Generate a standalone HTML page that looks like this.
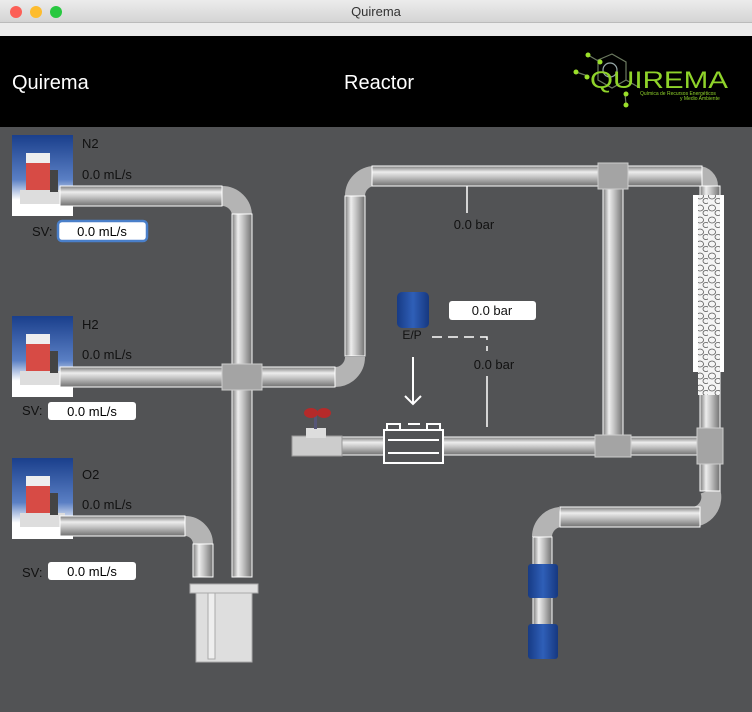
<!DOCTYPE html>
<html><head><meta charset="utf-8"><style>
html,body{margin:0;padding:0;width:752px;height:712px;overflow:hidden;background:#525355;font-family:"Liberation Sans",sans-serif}
svg{display:block}
</style></head><body>
<svg width="752" height="712" xmlns="http://www.w3.org/2000/svg" font-family="Liberation Sans, sans-serif">
<defs>
<linearGradient id="gv" x1="0" y1="0" x2="0" y2="1"><stop offset="0" stop-color="#7a7a7a"/><stop offset=".3" stop-color="#ededed"/><stop offset=".55" stop-color="#c4c4c4"/><stop offset="1" stop-color="#707070"/></linearGradient>
<linearGradient id="gh" x1="0" y1="0" x2="1" y2="0"><stop offset="0" stop-color="#7a7a7a"/><stop offset=".3" stop-color="#ededed"/><stop offset=".55" stop-color="#c4c4c4"/><stop offset="1" stop-color="#707070"/></linearGradient>
<linearGradient id="tb" x1="0" y1="0" x2="0" y2="1"><stop offset="0" stop-color="#ececec"/><stop offset="1" stop-color="#d4d4d4"/></linearGradient>
<linearGradient id="img" x1="0" y1="0" x2="0" y2="1"><stop offset="0" stop-color="#1a3f8c"/><stop offset=".55" stop-color="#5a7fc4"/><stop offset=".8" stop-color="#fff"/><stop offset="1" stop-color="#fff"/></linearGradient>
<linearGradient id="blu" x1="0" y1="0" x2="1" y2="0"><stop offset="0" stop-color="#173b85"/><stop offset=".5" stop-color="#2f5fb8"/><stop offset="1" stop-color="#163880"/></linearGradient>
<pattern id="peb" width="12" height="12" patternUnits="userSpaceOnUse">
<rect width="12" height="12" fill="#f4f4f4"/>
<ellipse cx="4" cy="4" rx="3.5" ry="3" fill="none" stroke="#555" stroke-width="0.8"/>
<ellipse cx="10" cy="9" rx="3" ry="2.6" fill="none" stroke="#555" stroke-width="0.8"/>
</pattern>
<g id="mfc">
<rect width="61" height="81" fill="url(#img)"/>
<rect x="14" y="18" width="24" height="40" fill="#d74b45"/>
<rect x="14" y="18" width="24" height="10" fill="#eee"/>
<rect x="8" y="55" width="45" height="14" fill="#ddd"/>
<rect x="38" y="35" width="8" height="22" fill="#444"/>
</g>
</defs>
<rect x="0" y="0" width="752" height="22" fill="url(#tb)"/>
<rect x="0" y="22" width="752" height="14" fill="#ececec"/>
<line x1="0" y1="22.5" x2="752" y2="22.5" stroke="#bbb"/>
<circle cx="16" cy="12" r="6" fill="#fc5f57"/><circle cx="36" cy="12" r="6" fill="#fdbc2e"/><circle cx="56" cy="12" r="6" fill="#28c840"/>
<text x="376" y="16" font-size="13" fill="#333" text-anchor="middle">Quirema</text>
<rect x="0" y="36" width="752" height="91" fill="#000"/>
<text x="12" y="89" font-size="20" fill="#fff">Quirema</text>
<text x="344" y="89" font-size="20" fill="#fff">Reactor</text>
<g stroke="#6c7a60" stroke-width="1.2" fill="none"><circle cx="610" cy="70" r="7" stroke="#9aa"/><path d="M598 60 L612 54 L626 62 L626 80 L612 88 L598 80 Z M626 80 L640 88 M588 55 L600 62 M576 72 L588 76 M625 94 L626 104"/></g>
<g fill="#9be02a"><circle cx="588" cy="55" r="2.5"/><circle cx="600" cy="62" r="2.5"/><circle cx="576" cy="72" r="2.5"/><circle cx="587" cy="77" r="2.5"/><circle cx="626" cy="94" r="2.5"/><circle cx="626" cy="105" r="2.5"/></g>
<text x="590" y="88" font-size="24" fill="#8fd32a" textLength="138" lengthAdjust="spacingAndGlyphs">QUIREMA</text>
<text x="640" y="95" font-size="5" fill="#8fd32a">Química de Recursos Energéticos</text>
<text x="680" y="100" font-size="5" fill="#8fd32a">y Medio Ambiente</text>
<use href="#mfc" x="12" y="135"/><use href="#mfc" x="12" y="316"/><use href="#mfc" x="12" y="458"/>
<g font-size="13" fill="#111">
<text x="82" y="148">N2</text><text x="82" y="179">0.0 mL/s</text><text x="32" y="236">SV:</text>
<text x="82" y="329">H2</text><text x="82" y="359">0.0 mL/s</text><text x="22" y="415">SV:</text>
<text x="82" y="479">O2</text><text x="82" y="509">0.0 mL/s</text><text x="22" y="577">SV:</text>
</g>
<rect x="58" y="221" width="89" height="20" rx="4" fill="#fff" stroke="#4a7fc9" stroke-width="2.5"/>
<rect x="48" y="402" width="88" height="18" rx="3" fill="#fff"/>
<rect x="48" y="562" width="88" height="18" rx="3" fill="#fff"/>
<g font-size="13" fill="#000" text-anchor="middle"><text x="102" y="236">0.0 mL/s</text><text x="92" y="416">0.0 mL/s</text><text x="92" y="576">0.0 mL/s</text></g>
<g fill="none" stroke="#b4b4b4" stroke-width="20">
<path d="M222 196 A20 20 0 0 1 242 216"/>
<path d="M335 377 A20 20 0 0 0 355 357"/>
<path d="M355 196 A20 20 0 0 1 375 176"/>
<path d="M698 176 A10 10 0 0 1 708 186"/>
<path d="M710 490 A20 20 0 0 1 690 517"/>
<path d="M560 517 A20 20 0 0 0 542 537"/>
<path d="M185 526 A18 18 0 0 1 203 544"/>
</g>
<g fill="url(#gv)" stroke="#fff" stroke-width="1">
<rect x="60" y="186" width="162" height="20"/>
<rect x="60" y="367" width="275" height="20"/>
<rect x="60" y="516" width="125" height="20"/>
<rect x="372" y="166" width="330" height="20"/>
<rect x="340" y="437" width="370" height="18"/>
<rect x="560" y="507" width="140" height="20"/>
</g>
<g fill="url(#gh)" stroke="#fff" stroke-width="1">
<rect x="232" y="214" width="20" height="363"/>
<rect x="345" y="196" width="20" height="160"/>
<rect x="603" y="186" width="20" height="251"/>
<rect x="700" y="186" width="20" height="305"/>
<rect x="533" y="537" width="19" height="118"/>
<rect x="193" y="544" width="20" height="33"/>
</g>
<g fill="#a4a4a4" stroke="#ccc">
<rect x="222" y="364" width="40" height="26"/><rect x="598" y="163" width="30" height="26"/><rect x="595" y="435" width="36" height="22"/><rect x="697" y="428" width="26" height="36"/>
</g>
<rect x="693" y="195" width="31" height="177" fill="#fff"/>
<rect x="698" y="195" width="22" height="200" fill="url(#peb)"/>
<rect x="190" y="584" width="68" height="9" fill="#e0e0e0" stroke="#aaa"/>
<rect x="196" y="593" width="56" height="69" fill="#dedede" stroke="#aaa"/>
<rect x="208" y="593" width="7" height="66" fill="#eee" stroke="#aaa"/>
<rect x="528" y="564" width="30" height="34" rx="3" fill="url(#blu)"/>
<rect x="528" y="624" width="30" height="35" rx="3" fill="url(#blu)"/>
<rect x="397" y="292" width="32" height="36" rx="5" fill="url(#blu)"/>
<text x="412" y="339" font-size="12" fill="#111" text-anchor="middle">E/P</text>
<rect x="292" y="436" width="50" height="20" fill="#ccc" stroke="#999"/>
<rect x="306" y="428" width="20" height="10" fill="#ddd"/>
<rect x="314" y="414" width="3" height="15" fill="#557"/>
<ellipse cx="311" cy="413" rx="7" ry="5" fill="#b52a2a"/><ellipse cx="324" cy="413" rx="7" ry="5" fill="#b52a2a"/>
<g stroke="#fff" stroke-width="2" fill="none">
<rect x="384" y="430" width="59" height="33" fill="#525355"/>
<path d="M387 430 V424 H400 V430 M427 430 V424 H440 V430 M408 424 H420"/>
<line x1="388" y1="440" x2="439" y2="440"/><line x1="388" y1="453" x2="439" y2="453"/>
<line x1="413" y1="357" x2="413" y2="404"/><path d="M405 396 L413 404 L421 396"/>
</g>
<g stroke="#fff" stroke-width="1.5" fill="none">
<path d="M432 337 H487 V351" stroke-dasharray="10 6"/>
<line x1="487" y1="376" x2="487" y2="427"/>
<line x1="467" y1="186" x2="467" y2="213"/>
</g>
<rect x="449" y="301" width="87" height="19" rx="3" fill="#fff"/>
<g font-size="13" fill="#111" text-anchor="middle"><text x="492" y="315">0.0 bar</text><text x="494" y="369">0.0 bar</text><text x="474" y="229">0.0 bar</text></g>
</svg>
</body></html>
